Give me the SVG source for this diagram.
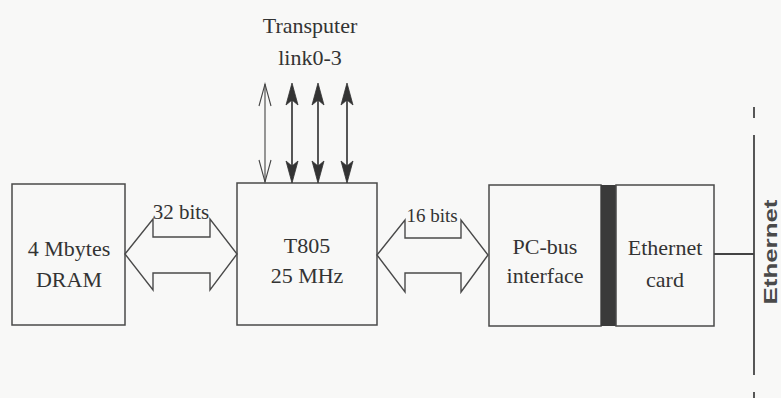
<svg xmlns="http://www.w3.org/2000/svg" width="781" height="398" viewBox="0 0 781 398">
<style>
.box{fill:none;stroke:#4a4a4a;stroke-width:1.5}
.bus{fill:none;stroke:#4a4a4a;stroke-width:1.4;stroke-linejoin:miter}
.t{font-size:22px;fill:#333;text-anchor:middle}
.ln{stroke:#444;fill:none}
.hd{fill:#333;stroke:#333;stroke-width:0.8;stroke-linejoin:miter}
</style>
<rect x="0" y="0" width="781" height="398" fill="#f8f8f7"/>
<g font-family="'Liberation Serif', 'DejaVu Serif', serif">
<g id="dram">
<rect class="box" x="12" y="184" width="113" height="141"/>
<text class="t" x="69" y="256">4 Mbytes</text>
<text class="t" x="69" y="287">DRAM</text>
</g>
<g id="t805">
<rect class="box" x="237" y="183" width="140" height="142"/>
<text class="t" x="307" y="253">T805</text>
<text class="t" x="307" y="283">25 MHz</text>
</g>
<g id="pcbus">
<rect class="box" x="489" y="185" width="112" height="141"/>
<text class="t" x="545" y="254">PC-bus</text>
<text class="t" x="545" y="283">interface</text>
</g>
<g id="bar">
<rect x="601" y="185" width="15" height="141" fill="#3a3a3a"/>
</g>
<g id="ethcard">
<rect class="box" x="616" y="185" width="98" height="141"/>
<text class="t" x="665" y="255">Ethernet</text>
<text class="t" x="665" y="287">card</text>
</g>
<g id="transputer-label">
<text class="t" x="310" y="33">Transputer</text>
<text class="t" x="310" y="65">link0-3</text>
</g>
<g id="ethernet-bus">
<line class="ln" stroke-width="1.8" x1="754" y1="107" x2="754" y2="118"/>
<line class="ln" stroke-width="1.8" x1="754" y1="135" x2="754" y2="375"/>
<line class="ln" stroke-width="1.8" x1="754" y1="392" x2="754" y2="398"/>
<text x="777" y="252" transform="rotate(-90 777 252)" text-anchor="middle" font-family="'Liberation Sans', Arial, sans-serif" font-size="18" font-weight="bold" fill="#4a4a4a" textLength="105" lengthAdjust="spacingAndGlyphs">Ethernet</text>
</g>
<g id="connectors">
<polygon class="bus" points="125,254 153,219 153,237 210,237 210,219 237,254 210,290 210,273 153,273 153,290"/>
<text class="t" x="181" y="219" style="font-size:21px">32 bits</text>
<polygon class="bus" points="377,255 405,220 405,238 461,238 461,220 488,255 461,292 461,273 405,273 405,292"/>
<text class="t" x="432" y="222" style="font-size:19px">16 bits</text>
<line class="ln" stroke-width="1.8" x1="714" y1="254" x2="754" y2="254"/>
<line class="ln" stroke-width="1.1" x1="265" y1="84" x2="265" y2="182"/>
<polyline class="ln" stroke-width="1.1" points="259,106 265,84 271,106"/>
<polyline class="ln" stroke-width="1.1" points="259,160 265,182 271,160"/>
<line class="ln" stroke-width="1.8" x1="292" y1="86" x2="292" y2="180"/>
<polygon class="hd" points="292,83 298,105 292,100 286,105"/>
<polygon class="hd" points="292,183 298,161 292,166 286,161"/>
<line class="ln" stroke-width="1.8" x1="318" y1="86" x2="318" y2="180"/>
<polygon class="hd" points="318,83 324,105 318,100 312,105"/>
<polygon class="hd" points="318,183 324,161 318,166 312,161"/>
<line class="ln" stroke-width="1.8" x1="347" y1="86" x2="347" y2="180"/>
<polygon class="hd" points="347,83 353,105 347,100 341,105"/>
<polygon class="hd" points="347,183 353,161 347,166 341,161"/>
</g>
</g>
</svg>
